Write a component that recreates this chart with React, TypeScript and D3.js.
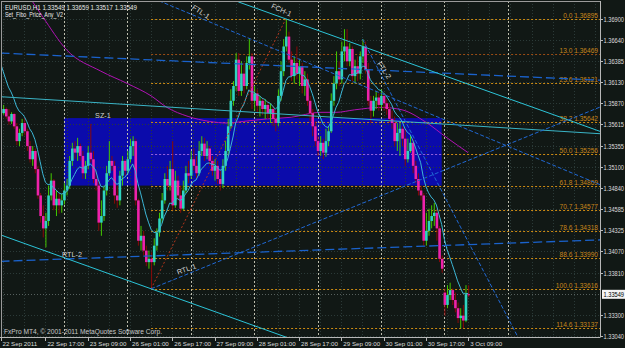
import React from 'react';
import * as d3 from 'd3';

const W = 625;
const H = 348;

// ---------- data ----------
const firstOpen = 1.358;
const gapOpens: Record<number, number> = { 168: 1.3357 };

const closes = [
  1.3575, 1.358, 1.3571, 1.3565, 1.3574, 1.3559, 1.3541, 1.3551, 1.3563, 1.3553,
  1.3535, 1.3519, 1.3529, 1.3507, 1.3475, 1.345, 1.3435, 1.3444, 1.3475, 1.3493,
  1.3463, 1.3471, 1.3463, 1.3469, 1.3481, 1.3487, 1.3517, 1.3532, 1.3527, 1.3535,
  1.3523, 1.3502, 1.3511, 1.3527, 1.3519, 1.3495, 1.3487, 1.3442, 1.345, 1.3481,
  1.3502, 1.3517, 1.3511, 1.3475, 1.3469, 1.3499, 1.3517, 1.3505, 1.3519, 1.3535,
  1.3541, 1.3469, 1.342, 1.3426, 1.3408, 1.3394, 1.3398, 1.3394, 1.3414, 1.343,
  1.3447, 1.3469, 1.3495, 1.3487, 1.3507, 1.3463, 1.3493, 1.3475, 1.3459, 1.3481,
  1.3502, 1.3499, 1.3519, 1.3511, 1.3502, 1.3529, 1.3538, 1.3523, 1.3532, 1.3517,
  1.3505, 1.3511, 1.3495, 1.3489, 1.3511, 1.3529, 1.3559, 1.359, 1.3608, 1.364,
  1.3602, 1.3623, 1.3608, 1.3636, 1.3644, 1.359, 1.3599, 1.3584, 1.359, 1.358,
  1.3585, 1.3575, 1.358, 1.3568, 1.3563, 1.3596, 1.3626, 1.3656, 1.3668, 1.364,
  1.362, 1.3636, 1.3623, 1.3632, 1.3608, 1.3616, 1.359, 1.3575, 1.3559, 1.3541,
  1.3529, 1.3539, 1.3527, 1.3541, 1.3553, 1.359, 1.3611, 1.3626, 1.3616, 1.365,
  1.3656, 1.3638, 1.3653, 1.362, 1.3632, 1.3623, 1.3644, 1.3656, 1.3628, 1.359,
  1.3578, 1.359, 1.3594, 1.3585, 1.3596, 1.3587, 1.358, 1.3568, 1.3563, 1.3541,
  1.3551, 1.3556, 1.3544, 1.3519, 1.3529, 1.3539, 1.3511, 1.3495, 1.3481, 1.3475,
  1.342, 1.3432, 1.3444, 1.345, 1.3454, 1.3435, 1.3398, 1.3386, 1.3342, 1.3354,
  1.336, 1.3348, 1.3338, 1.3326, 1.3329, 1.3323, 1.3355, 1.33549,
];

const highs = [
  1.3586, 1.3585, 1.3582, 1.358, 1.3576, 1.3575, 1.3563, 1.3556, 1.3568, 1.3569,
  1.3556, 1.3541, 1.3535, 1.3532, 1.3511, 1.3478, 1.3463, 1.3454, 1.3487, 1.3502,
  1.3495, 1.3481, 1.3478, 1.3477, 1.349, 1.3495, 1.3523, 1.3539, 1.3541, 1.3545,
  1.3538, 1.3529, 1.3517, 1.3535, 1.3562, 1.3529, 1.3505, 1.3493, 1.3469, 1.3487,
  1.3511, 1.3541, 1.3523, 1.3517, 1.3487, 1.3505, 1.3523, 1.3519, 1.3529, 1.3544,
  1.3547, 1.3544, 1.3471, 1.3438, 1.3432, 1.3414, 1.3408, 1.3406, 1.3423, 1.3435,
  1.3454, 1.3478, 1.3502, 1.3511, 1.3517, 1.3541, 1.3505, 1.3499, 1.3487, 1.3493,
  1.3511, 1.3517, 1.3529, 1.3532, 1.3523, 1.3541, 1.3547, 1.3545, 1.3541, 1.3535,
  1.3523, 1.3519, 1.3517, 1.3505, 1.3519, 1.3541, 1.3568, 1.3604, 1.3614, 1.3648,
  1.3648, 1.3638, 1.3636, 1.3644, 1.3666, 1.3648, 1.3608, 1.3604, 1.3596, 1.3593,
  1.3592, 1.359, 1.3587, 1.3584, 1.3578, 1.3604, 1.3638, 1.3665, 1.36895, 1.3674,
  1.365, 1.3644, 1.3656, 1.364, 1.3636, 1.3626, 1.3623, 1.3596, 1.358, 1.3565,
  1.3547, 1.3547, 1.3544, 1.3556, 1.3559, 1.3599, 1.362, 1.365, 1.3638, 1.3662,
  1.3677, 1.3677, 1.366, 1.3656, 1.364, 1.3644, 1.365, 1.3665, 1.3662, 1.3636,
  1.3596, 1.3596, 1.3602, 1.3599, 1.3604, 1.3599, 1.3592, 1.3587, 1.3578, 1.3571,
  1.3563, 1.3563, 1.3559, 1.3556, 1.3544, 1.3547, 1.3544, 1.3517, 1.3502, 1.3487,
  1.3478, 1.3454, 1.3459, 1.3463, 1.3466, 1.3459, 1.3438, 1.3402, 1.3362, 1.3366,
  1.3369, 1.3362, 1.3357, 1.3345, 1.3338, 1.3342, 1.3366, 1.33659,
];

const lows = [
  1.3571, 1.3573, 1.3568, 1.3561, 1.3562, 1.3556, 1.3536, 1.3535, 1.3547, 1.3548,
  1.3529, 1.3515, 1.3511, 1.3502, 1.3471, 1.3442, 1.3424, 1.3412, 1.3438, 1.3469,
  1.3457, 1.345, 1.3453, 1.3454, 1.3464, 1.3475, 1.3483, 1.3511, 1.3519, 1.3517,
  1.3517, 1.3495, 1.3495, 1.3507, 1.3515, 1.349, 1.3481, 1.3432, 1.3426, 1.3444,
  1.3475, 1.3499, 1.3505, 1.3465, 1.346, 1.3463, 1.3487, 1.3499, 1.3501, 1.3515,
  1.3523, 1.3463, 1.3414, 1.3408, 1.3402, 1.3389, 1.3386, 1.33616, 1.339, 1.3408,
  1.3425, 1.3442, 1.3465, 1.3481, 1.3481, 1.3457, 1.346, 1.3469, 1.3454, 1.3457,
  1.3478, 1.349, 1.3495, 1.3505, 1.3496, 1.3499, 1.3523, 1.3517, 1.3519, 1.3511,
  1.3499, 1.3493, 1.3489, 1.3481, 1.3484, 1.3505, 1.3523, 1.3556, 1.3584, 1.3602,
  1.3596, 1.3596, 1.3599, 1.3604, 1.3628, 1.358, 1.3578, 1.3575, 1.3571, 1.3573,
  1.3568, 1.3568, 1.3563, 1.3559, 1.3553, 1.3559, 1.359, 1.362, 1.365, 1.3636,
  1.3614, 1.3611, 1.3616, 1.3608, 1.3599, 1.3596, 1.3584, 1.3565, 1.3547, 1.3535,
  1.3523, 1.3523, 1.3519, 1.3522, 1.3535, 1.3551, 1.3584, 1.3604, 1.3608, 1.3611,
  1.3638, 1.3632, 1.3632, 1.3614, 1.3611, 1.3614, 1.3616, 1.3636, 1.3623, 1.3584,
  1.3563, 1.3571, 1.358, 1.3578, 1.358, 1.3578, 1.3573, 1.3563, 1.3556, 1.3535,
  1.3529, 1.3523, 1.3535, 1.3511, 1.3515, 1.3527, 1.3502, 1.349, 1.3475, 1.3469,
  1.3414, 1.3414, 1.3426, 1.3435, 1.3438, 1.342, 1.3394, 1.3381, 1.3329, 1.3338,
  1.3348, 1.3342, 1.3333, 1.332, 1.33137, 1.3314, 1.3321, 1.33517,
];

const fastMaSeed = 1.3636;
const fastMaPeriod = 10;

const slowMa: [number, number][] = [
  [0, 1.376], [12, 1.3711], [16, 1.3692], [25, 1.3652], [38, 1.3626], [48, 1.3611],
  [57, 1.3596], [63, 1.3582], [71, 1.3571], [79, 1.3565], [86, 1.3563], [92, 1.3565],
  [101, 1.3568], [110, 1.357], [121, 1.3576], [127, 1.3576], [134, 1.3579],
  [144, 1.3582], [152, 1.3579], [161, 1.3564], [169, 1.3545], [177, 1.3527],
];

const daySeparators = [24, 48, 72, 96, 120, 144, 168, 192];

const timeLabels: [number, string][] = [
  [0, '22 Sep 2011'], [17, '22 Sep 17:00'], [33, '23 Sep 09:00'], [49, '26 Sep 01:00'],
  [65, '26 Sep 17:00'], [81, '27 Sep 09:00'], [97, '28 Sep 01:00'], [113, '28 Sep 17:00'],
  [129, '29 Sep 09:00'], [145, '30 Sep 01:00'], [161, '30 Sep 17:00'], [177, '3 Oct 09:00'],
];

const priceTicks = [
  '1.36900', '1.36640', '1.36385', '1.36130', '1.35870', '1.35615', '1.35355', '1.35100',
  '1.34840', '1.34585', '1.34325', '1.34070', '1.33810', '1.33300', '1.33040',
];
const bidPrice = 1.33549;

const fiboLevels: [string, number][] = [
  ['0.0', 1.36895], ['13.0', 1.36469], ['23.6', 1.36121], ['38.2', 1.35642],
  ['50.0', 1.35256], ['61.8', 1.34869], ['70.7', 1.34577], ['78.6', 1.34318],
  ['88.6', 1.3399], ['100.0', 1.33616], ['114.6', 1.33137],
];
const fiboStart: [number, number] = [57, 1.33616];
const fiboEnd: [number, number] = [108, 1.36895];

const zone = { name: 'SZ-1', from: 24, to: 167, top: 1.3569, bottom: 1.3487 };

type TL = { id: string; a: [number, number]; b: [number, number] };
const trendLines: TL[] = [
  { id: 'blueUpper', a: [0, 1.3648], b: [227, 1.3615] },
  { id: 'RTL-2', a: [0, 1.3395], b: [227, 1.3421] },
  { id: 'teal', a: [0, 1.3595], b: [227, 1.355] },
  { id: 'FCH-1', a: [90, 1.37102], b: [227, 1.35528] },
  { id: 'FCH-1b', a: [0, 1.34271], b: [120, 1.32892] },
  { id: 'FTL-1', a: [60, 1.37115], b: [227, 1.3488] },
  { id: 'RTL-1', a: [57, 1.33616], b: [227, 1.35825] },
  { id: 'FTL-2', a: [137, 1.3665], b: [196, 1.3302] },
];

const lineLabels: { text: string; at: [number, number]; rot: number }[] = [
  { text: 'FTL-1', at: [72.9, 1.3705], rot: 33 },
  { text: 'FCH-1', at: [102.8, 1.37064], rot: 25 },
  { text: 'FTL-2', at: [143.3, 1.36371], rot: 55 },
  { text: 'RTL-1', at: [66.8, 1.3382], rot: -20 },
  { text: 'RTL-2', at: [23.3, 1.34038], rot: 0 },
  { text: 'SZ-1', at: [35.8, 1.35727], rot: 0 },
];

const headerLine1 = 'EURUSD,H1  1.33549 1.33659 1.33517 1.33549';
const headerLine2 = 'Set_Fibo_Price_Any_V2';
const copyright = 'FxPro MT4, \u00A9 2001-2011 MetaQuotes Software Corp.';

// ---------- styles ----------
const BG = '#111815';
const FONT = 'Liberation Sans, Arial, sans-serif';
const lineStyle: Record<string, { stroke: string; width: number; dash?: string }> = {
  blueUpper: { stroke: '#1a62cc', width: 1.3, dash: '9,4' },
  'RTL-2': { stroke: '#1a62cc', width: 1.3, dash: '9,4' },
  teal: { stroke: '#3ab4c6', width: 1 },
  'FCH-1': { stroke: '#2cc4d8', width: 1 },
  'FCH-1b': { stroke: '#2cc4d8', width: 1 },
  'FTL-1': { stroke: '#2068d4', width: 1, dash: '4,2' },
  'RTL-1': { stroke: '#2068d4', width: 1, dash: '4,2' },
  'FTL-2': { stroke: '#2068d4', width: 1, dash: '4,2' },
};

export default function App() {
  const L = 1, T = 1, R = 600, B = 337;
  const x = d3.scaleLinear().domain([0, 192]).range([0.5, 0.5 + 192 * 2.642]);
  const y = d3.scaleLinear().domain([1.3304, 1.369]).range([336.2, 18.5]);

  const bars = closes.map((c, i) => {
    const o = i === 0 ? firstOpen : gapOpens[i] ?? closes[i - 1];
    return { i, o, c, h: Math.max(highs[i], o, c), l: Math.min(lows[i], o, c) };
  });

  const k = 2 / (fastMaPeriod + 1);
  const fast: [number, number][] = [];
  let v = fastMaSeed;
  closes.forEach((c, i) => {
    if (i > 0) v = v + k * (c - v);
    fast.push([i, v]);
  });

  const fastPath = d3.line<[number, number]>().x((d) => x(d[0])).y((d) => y(d[1]))(fast) || '';
  const slowPath =
    d3.line<[number, number]>().x((d) => x(d[0])).y((d) => y(d[1])).curve(d3.curveMonotoneX)(slowMa) || '';

  const gridBars = d3.range(1, 240, 8);

  return (
    <svg
      width={W}
      height={H}
      style={{ position: 'fixed', left: 0, top: 0, background: BG }}
      fontFamily={FONT}
    >
      <defs>
        <clipPath id="plot">
          <rect x={L} y={T} width={R - L} height={B - T} />
        </clipPath>
      </defs>
      <rect x={0} y={0} width={W} height={H} fill={BG} />

      <g clipPath="url(#plot)">
        <rect
          x={x(zone.from)}
          y={y(zone.top)}
          width={x(zone.to) - x(zone.from)}
          height={y(zone.bottom) - y(zone.top)}
          fill="#0b0bab"
        />
        {priceTicks.map((t) => (
          <line key={'hg' + t} x1={L} x2={R} y1={Math.round(y(+t)) + 0.5} y2={Math.round(y(+t)) + 0.5}
            stroke="#2b3a38" strokeDasharray="1,2" />
        ))}
        {gridBars.map((b) => (
          <line key={'vg' + b} x1={Math.round(x(b)) + 0.5} x2={Math.round(x(b)) + 0.5} y1={T} y2={B}
            stroke="#2b3a38" strokeDasharray="1,2" />
        ))}
        {fiboLevels.map(([lv, p]) => {
          const yy = Math.round(y(p)) + 0.5;
          const col = lv === '13.0' ? '#9a4c14' : '#cc8a12';
          return (
            <g key={'f' + lv}>
              <line x1={x(fiboStart[0])} x2={R} y1={yy} y2={yy} stroke={col} strokeDasharray="2,2" />
              {lv === '50.0' && (
                <line x1={x(fiboStart[0])} x2={x(zone.to)} y1={yy} y2={yy} stroke="#8a5ae6" strokeDasharray="2,2" />
              )}
              <text x={598} y={yy - 1.5} fontSize={6.6} fill="#c8861c" textAnchor="end">
                {lv + '  ' + p.toFixed(5)}
              </text>
            </g>
          );
        })}
        {daySeparators.map((b) => (
          <line key={'ds' + b} x1={Math.round(x(b)) + 0.5} x2={Math.round(x(b)) + 0.5} y1={T} y2={B}
            stroke="#bdbdad" strokeDasharray="2,2" />
        ))}
        <line x1={L} x2={R} y1={Math.round(y(bidPrice)) + 0.5} y2={Math.round(y(bidPrice)) + 0.5}
          stroke="#56605e" strokeDasharray="1,2" />

        <path d={slowPath} fill="none" stroke="#b012b4" strokeWidth={1} />

        {bars.map((d) => {
          const bull = d.c >= d.o;
          const cx = x(d.i) + 0.5;
          const top = y(Math.max(d.o, d.c));
          const bot = y(Math.min(d.o, d.c));
          return (
            <g key={'c' + d.i}>
              <line x1={cx} x2={cx} y1={y(d.h)} y2={y(d.l)} stroke={bull ? '#44c800' : '#8a0808'} strokeWidth={1} />
              <rect x={cx - 1.3} y={top} width={2.6} height={Math.max(1, bot - top)}
                fill={bull ? '#2fd4c0' : '#ee22aa'} />
            </g>
          );
        })}

        <path d={fastPath} fill="none" stroke="#3cb6d6" strokeWidth={1} />

        <line x1={x(fiboStart[0])} y1={y(fiboStart[1])} x2={x(fiboEnd[0])} y2={y(fiboEnd[1])}
          stroke="#b4341a" strokeDasharray="2,2" />

        {trendLines.map((t) => {
          const s = lineStyle[t.id];
          return (
            <line key={t.id} x1={x(t.a[0])} y1={y(t.a[1])} x2={x(t.b[0])} y2={y(t.b[1])}
              stroke={s.stroke} strokeWidth={s.width} strokeDasharray={s.dash} />
          );
        })}

        {lineLabels.map((lb) => (
          <text key={lb.text} transform={`translate(${x(lb.at[0])},${y(lb.at[1])}) rotate(${lb.rot})`}
            fontSize={7.2} fill="#d4d4d4" dy={3}>
            {lb.text}
          </text>
        ))}
      </g>

      <line x1={R + 0.5} x2={R + 0.5} y1={T} y2={B} stroke="#b8b8b8" />
      <line x1={0} x2={R + 0.5} y1={B + 0.5} y2={B + 0.5} stroke="#b8b8b8" />
      <line x1={L + 0.5} x2={L + 0.5} y1={T} y2={B} stroke="#9a9a9a" />
      <line x1={L} x2={R} y1={T + 0.5} y2={T + 0.5} stroke="#9a9a9a" />

      {priceTicks.map((t) => {
        const yy = Math.round(y(+t)) + 0.5;
        return (
          <g key={'pt' + t}>
            <line x1={R} x2={R + 3} y1={yy} y2={yy} stroke="#b8b8b8" />
            <text x={603.5} y={yy + 2.3} fontSize={6.3} fill="#dcdcdc" textLength={20.5}
              lengthAdjust="spacingAndGlyphs">{t}</text>
          </g>
        );
      })}
      <rect x={602} y={y(bidPrice) - 4.5} width={23} height={9} fill="#f4f4f4" />
      <text x={603.5} y={y(bidPrice) + 2.3} fontSize={6.3} fill="#000" textLength={20.5}
        lengthAdjust="spacingAndGlyphs">{bidPrice.toFixed(5)}</text>

      {timeLabels.map(([b, s]) => (
        <g key={'tl' + b}>
          <line x1={Math.round(x(b)) + 0.5} x2={Math.round(x(b)) + 0.5} y1={B} y2={B + 4} stroke="#b8b8b8" />
          <text x={x(b) + 2} y={345.5} fontSize={6.2} fill="#dcdcdc">{s}</text>
        </g>
      ))}

      <text x={5} y={9.5} fontSize={7} fill="#e8e8e8" textLength={132} lengthAdjust="spacingAndGlyphs">
        {headerLine1}
      </text>
      <text x={5} y={17} fontSize={7} fill="#e8e8e8" textLength={58} lengthAdjust="spacingAndGlyphs">
        {headerLine2}
      </text>
      <text x={4} y={333.5} fontSize={6.6} fill="#c8c8c8" textLength={158} lengthAdjust="spacingAndGlyphs">
        {copyright}
      </text>
    </svg>
  );
}
